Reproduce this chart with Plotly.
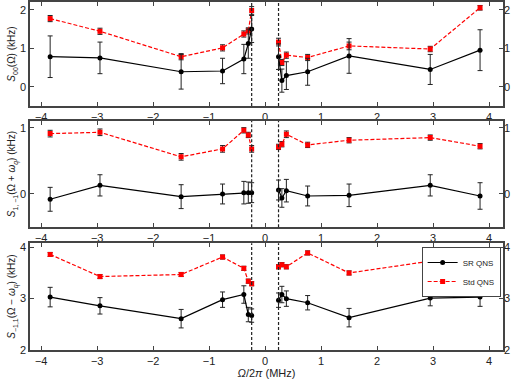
import plotly.graph_objects as go

# frequencies (MHz) -- 7 negative and 7 positive detunings
freq = [-3.84, -2.95, -1.5, -0.76, -0.38, -0.30, -0.24,
        0.24, 0.30, 0.38, 0.76, 1.5, 2.95, 3.84]
cutoff = 0.24

# S_00
sr_00 = [0.78, 0.75, 0.39, 0.41, 0.72, 1.12, 1.50, 0.78, 0.16, 0.29, 0.39, 0.80, 0.45, 0.95]
sr_00_err = [0.54, 0.41, 0.45, 0.33, 0.38, 0.38, 0.35, 0.33, 0.30, 0.36, 0.35, 0.45, 0.39, 0.53]
std_00 = [1.77, 1.44, 0.78, 1.01, 1.37, 1.45, 1.98, 1.16, 0.63, 0.82, 0.76, 1.06, 0.98, 2.05]
std_00_err = [0.08, 0.08, 0.08, 0.08, 0.08, 0.08, 0.10, 0.10, 0.08, 0.08, 0.08, 0.10, 0.07, 0.06]

# S_{1,-1}
sr_p = [-0.08, 0.13, -0.04, 0.00, 0.02, 0.02, 0.02, 0.06, -0.06, 0.05, -0.03, -0.02, 0.13, -0.03]
sr_p_err = [0.18, 0.16, 0.18, 0.15, 0.17, 0.16, 0.15, 0.15, 0.14, 0.17, 0.15, 0.17, 0.16, 0.20]
std_p = [0.91, 0.93, 0.56, 0.68, 0.96, 0.89, 0.68, 0.71, 0.75, 0.90, 0.74, 0.81, 0.85, 0.72]
std_p_err = [0.05, 0.05, 0.05, 0.05, 0.04, 0.04, 0.05, 0.04, 0.04, 0.05, 0.04, 0.04, 0.04, 0.04]

# S_{-1,1}
sr_m = [3.03, 2.86, 2.61, 2.98, 3.08, 2.69, 2.67, 2.97, 3.08, 3.00, 2.92, 2.63, 3.01, 3.03]
sr_m_err = [0.19, 0.16, 0.18, 0.15, 0.17, 0.14, 0.13, 0.14, 0.16, 0.15, 0.14, 0.18, 0.15, 0.18]
std_m = [3.86, 3.43, 3.47, 3.81, 3.59, 3.34, 3.29, 3.62, 3.66, 3.62, 3.89, 3.50, 3.73, 3.85]
std_m_err = [0.04, 0.04, 0.04, 0.04, 0.04, 0.04, 0.04, 0.04, 0.04, 0.04, 0.04, 0.04, 0.04, 0.04]

panels = [
    (sr_00, sr_00_err, std_00, std_00_err, [-0.5, 2.2], [0, 1, 2],
     "<i>S</i><sub>00</sub>(Ω) (kHz)"),
    (sr_p, sr_p_err, std_p, std_p_err, [-0.5, 1.1], [0, 1],
     "<i>S</i><sub>1, −1</sub>(Ω + <i>ω<sub>q</sub></i>) (kHz)"),
    (sr_m, sr_m_err, std_m, std_m_err, [2.0, 4.08], [2, 3, 4],
     "<i>S</i><sub>−1,1</sub>(Ω − <i>ω<sub>q</sub></i>) (kHz)"),
]
domains = [[0.701, 1.0], [0.353, 0.658], [0.0, 0.307]]

AX = "#444444"
fig = go.Figure()

for i, (sr, sre, sd, sde, yr, tv, ttl) in enumerate(panels):
    n = i + 1
    xa = "x" if n == 1 else f"x{n}"
    ya = "y" if n == 1 else f"y{n}"
    # split into negative / positive branches so lines don't cross the gap
    for part, sl in enumerate([slice(0, 7), slice(7, 14)]):
        first = (n == 3 and part == 0)
        fig.add_trace(go.Scatter(
            x=freq[sl], y=sd[sl], xaxis=xa, yaxis=ya, mode="lines+markers",
            name="Std QNS", showlegend=first, legendrank=2,
            line=dict(color="#ff0000", width=1.2, dash="4px,2px"),
            marker=dict(color="#ff0000", size=5, symbol="square"),
            error_y=dict(type="data", array=sde[sl], color="#222222", thickness=1, width=2.5),
        ))
        fig.add_trace(go.Scatter(
            x=freq[sl], y=sr[sl], xaxis=xa, yaxis=ya, mode="lines+markers",
            name="SR QNS", showlegend=first, legendrank=1,
            line=dict(color="black", width=1.2),
            marker=dict(color="black", size=5),
            error_y=dict(type="data", array=sre[sl], color="#222222", thickness=1, width=2.5),
        ))
    # invisible trace for the right-hand axis
    fig.add_trace(go.Scatter(
        x=freq, y=sr, xaxis=xa, yaxis=f"y{n + 3}", mode="lines",
        line=dict(width=0), opacity=0, showlegend=False, hoverinfo="skip",
    ))
    for xv in (-cutoff, cutoff):
        fig.add_shape(type="line", x0=xv, x1=xv, y0=0, y1=1,
                      xref=xa, yref=f"{ya} domain",
                      line=dict(color="#222222", width=1.2, dash="3px,2px"))

    axis_common = dict(showline=True, linecolor=AX, linewidth=1.5, ticks="inside",
                       ticklen=4, tickcolor=AX, showgrid=False, zeroline=False,
                       automargin=False, tickfont=dict(size=11, color="#222222"))
    fig.layout[f"xaxis{'' if n == 1 else n}"] = dict(
        axis_common, domain=[0, 1], range=[-4.2, 4.25], anchor=ya, mirror="ticks",
        tickvals=[-4, -3, -2, -1, 0, 1, 2, 3, 4],
        ticktext=["−4", "−3", "−2", "−1", "0", "1", "2", "3", "4"],
        title=dict(text="<i>Ω</i>/2<i>π</i> (MHz)" if n == 3 else None,
                   font=dict(size=11, color="#222222"), standoff=2),
    )
    fig.layout[f"yaxis{'' if n == 1 else n}"] = dict(
        axis_common, domain=domains[i], range=yr, anchor=xa, mirror=True,
        tickvals=tv, title=dict(text=ttl, font=dict(size=10, color="#222222"), standoff=2),
    )
    fig.layout[f"yaxis{n + 3}"] = dict(
        axis_common, domain=domains[i], range=yr, anchor=xa, overlaying=ya,
        side="right", tickvals=tv, showline=False,
    )

fig.update_layout(
    template="none",
    width=512, height=384,
    margin=dict(l=30, r=9, t=2, b=34),
    paper_bgcolor="white", plot_bgcolor="white",
    font=dict(family="Liberation Sans, Arial, sans-serif", color="#222222"),
    legend=dict(x=0.995, y=0.296, xanchor="right", yanchor="top",
                bgcolor="white", bordercolor=AX, borderwidth=1,
                font=dict(size=8), tracegroupgap=0, itemwidth=30),
)

# page body has a default 8px margin; remove it so the figure sits at the corner
fig.write_html("out.html", config={"displayModeBar": False},
               post_script="document.body.style.margin='0';")
